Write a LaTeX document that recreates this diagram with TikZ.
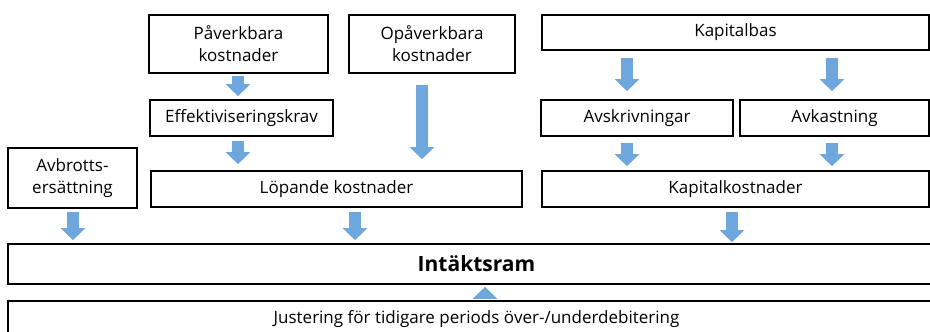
\documentclass[tikz,border=0pt]{standalone}
\usepackage{fontspec}
\setmainfont{Open Sans}
\usetikzlibrary{arrows.meta}
\definecolor{arrowblue}{RGB}{110,166,222}
\tikzset{
  box/.style={draw=black, line width=1.7pt, fill=white, inner sep=0pt, align=center, font=\fontsize{17}{22}\selectfont},
  flow/.style={draw=arrowblue, line width=12pt, -{Triangle[width=24pt,length=12pt]}, arrowblue},
}
\begin{document}
\begin{tikzpicture}[x=1pt,y=-1pt]
\useasboundingbox (0,0) rectangle (930,332);
\clip (0,0) rectangle (930,332);
\fill[white] (0,0) rectangle (930,332);
% boxes
\node[box, minimum width=179pt, minimum height=58pt] (pav) at (238.5,44) {Påverkbara\\kostnader};
\node[box, minimum width=166pt, minimum height=58pt] (opa) at (432,44) {Opåverkbara\\kostnader};
\node[box, minimum width=387pt, minimum height=35pt] (kb) at (735.5,32.5) {Kapitalbas};
\node[box, minimum width=183pt, minimum height=36pt] (eff) at (241.5,118) {Effektiviseringskrav};
\node[box, minimum width=192pt, minimum height=36pt] (avs) at (637,118) {Avskrivningar};
\node[box, minimum width=189pt, minimum height=36pt] (avk) at (834.5,118) {Avkastning};
\node[box, minimum width=129pt, minimum height=60pt] (avb) at (72.5,178) {Avbrotts-\\ersättning};
\node[box, minimum width=371pt, minimum height=36pt] (lop) at (336.5,189) {Löpande kostnader};
\node[box, minimum width=387pt, minimum height=36pt] (kk) at (735.5,189) {Kapitalkostnader};
\node[box, minimum width=937pt, minimum height=40pt, font=\fontsize{21}{24}\selectfont\bfseries] (ir) at (476.5,264) {Intäktsram};
\node[box, minimum width=937pt, minimum height=36pt] (jus) at (476.5,319) {Justering för tidigare periods över-/underdebitering};
% arrows
\draw[flow] (pav.south -| 238,0) ++(0,2) -- ([yshift=3pt]eff.north -| 238,0);
\draw[flow] (eff.south -| 238,0) ++(0,4) -- ([yshift=6pt]lop.north -| 238,0);
\draw[flow] (opa.south -| 422,0) ++(0,11) -- ([yshift=11pt]lop.north -| 422,0);
\draw[flow] (kb.south -| 627,0) ++(0,7) -- ([yshift=8pt]avs.north -| 627,0);
\draw[flow] (kb.south -| 832,0) ++(0,7) -- ([yshift=8pt]avk.north -| 832,0);
\draw[flow] (avs.south -| 627,0) ++(0,6) -- ([yshift=4pt]kk.north -| 627,0);
\draw[flow] (avk.south -| 832,0) ++(0,6) -- ([yshift=4pt]kk.north -| 832,0);
\draw[flow] (avb.south -| 73,0) ++(0,3) -- ([yshift=3pt]ir.north -| 73,0);
\draw[flow] (lop.south -| 355,0) ++(0,4) -- ([yshift=3pt]ir.north -| 355,0);
\draw[flow] (kk.south -| 732,0) ++(0,4) -- ([yshift=1pt]ir.north -| 732,0);
\draw[flow] (jus.north -| 485,0) ++(0,-1) -- ([yshift=-2pt]ir.south -| 485,0);
\end{tikzpicture}
\end{document}
